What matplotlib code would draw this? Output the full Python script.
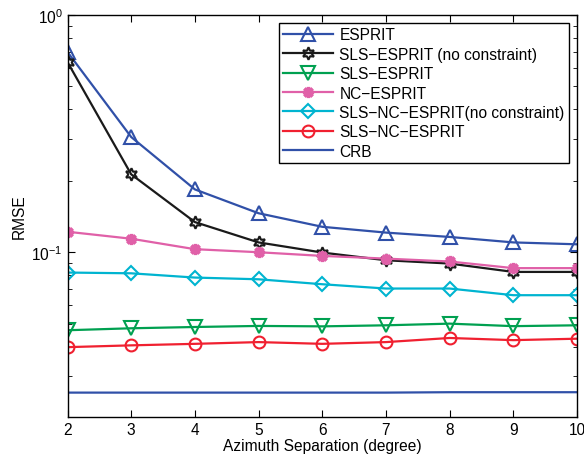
import numpy as np
import matplotlib.pyplot as plt
from matplotlib.ticker import LogLocator, NullFormatter

plt.rcParams['font.family'] = ['Liberation Sans', 'DejaVu Sans']
plt.rcParams['mathtext.fontset'] = 'custom'
plt.rcParams['mathtext.rm'] = 'Liberation Sans'

# 방위각 간격 (degree)
sep = [2, 3, 4, 5, 6, 7, 8, 9, 10]

esprit = [0.698, 0.306, 0.184, 0.146, 0.128, 0.121, 0.116, 0.110, 0.108]
sls_esprit_nc = [0.633, 0.213, 0.134, 0.110, 0.0997, 0.0925, 0.0896, 0.0826, 0.0826]
sls_esprit = [0.0469, 0.0478, 0.0484, 0.0489, 0.0487, 0.0492, 0.0500, 0.0488, 0.0492]
nc_esprit = [0.122, 0.114, 0.103, 0.100, 0.0965, 0.094, 0.0914, 0.0857, 0.0857]
sls_nc_esprit_nc = [0.0821, 0.0815, 0.0782, 0.0769, 0.0733, 0.0703, 0.0703, 0.0659, 0.0659]
sls_nc_esprit = [0.0398, 0.0405, 0.0411, 0.0418, 0.0411, 0.0418, 0.0435, 0.0426, 0.0432]
crb = [0.0256, 0.0256, 0.0256, 0.0256, 0.0256, 0.0256, 0.0257, 0.0257, 0.0257]

fs = 11.2

fig = plt.figure(figsize=(5.84, 4.64), dpi=100)
ax = fig.add_axes([0.1156, 0.0991, 0.8724, 0.8664])

lw = 1.6
ax.plot(sep, esprit, color='#3050a8', lw=lw, marker='^', ms=9.5, mfc='none', mew=1.5, label='ESPRIT')
ax.plot(sep, sls_esprit_nc, color='#1a1a1a', lw=lw, marker=(6, 1, 0), ms=9, mfc='none', mew=1.5,
        label='SLS\u2212ESPRIT (no constraint)')
ax.plot(sep, sls_esprit, color='#00a050', lw=lw, marker='v', ms=9.5, mfc='none', mew=1.5,
        label='SLS\u2212ESPRIT')
ax.plot(sep, nc_esprit, color='#e060a8', lw=lw, marker=(8, 2, 0), ms=8, mew=2.4,
        label='NC\u2212ESPRIT')
ax.plot(sep, sls_nc_esprit_nc, color='#00b4d0', lw=lw, marker='D', ms=7.5, mfc='none', mew=1.5,
        label='SLS\u2212NC\u2212ESPRIT(no constraint)')
ax.plot(sep, sls_nc_esprit, color='#f02030', lw=lw, marker='o', ms=8.5, mfc='none', mew=1.5,
        label='SLS\u2212NC\u2212ESPRIT')
ax.plot(sep, crb, color='#3050a8', lw=lw, label='CRB')

ax.set_yscale('log')
ax.set_xlim(2, 10)
ax.set_ylim(0.0202, 1)
ax.set_xticks(sep)
ax.yaxis.set_major_locator(LogLocator(base=10, numticks=5))
ax.yaxis.set_minor_locator(LogLocator(base=10, subs=np.arange(2, 10), numticks=20))
ax.yaxis.set_minor_formatter(NullFormatter())
ax.tick_params(which='both', direction='in', top=True, right=True, labelsize=fs)
ax.tick_params(which='major', length=5)
ax.tick_params(which='minor', length=3)

ax.set_xlabel('Azimuth Separation (degree)', fontsize=fs, labelpad=1)
ax.set_ylabel('RMSE', fontsize=fs, labelpad=3)

leg = ax.legend(loc='upper right', fontsize=fs, handlelength=3.2, labelspacing=0.28,
                borderpad=0.3, handletextpad=0.4, fancybox=False, framealpha=1,
                edgecolor='black')
leg.get_frame().set_linewidth(1.0)

for s in ax.spines.values():
    s.set_linewidth(1.0)

fig.savefig('out.png', dpi=100)
